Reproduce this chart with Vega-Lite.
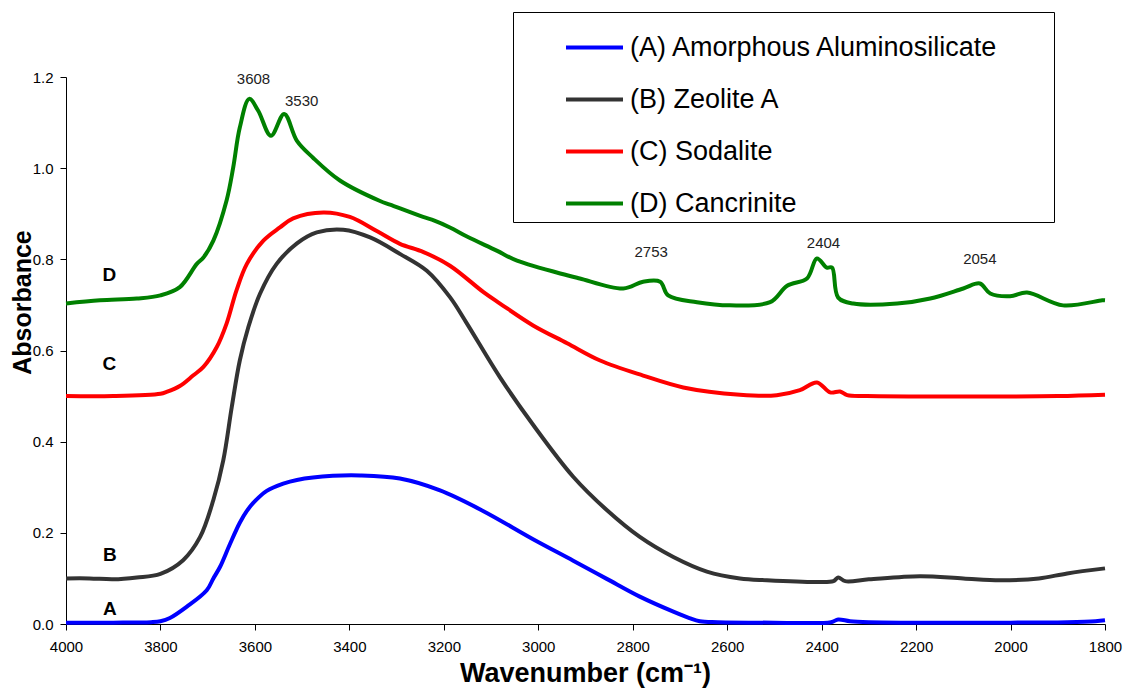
{
  "$schema": "https://vega.github.io/schema/vega-lite/v6.json",
  "width": 1039,
  "height": 547,
  "autosize": {"type": "none"},
  "padding": {"left": 66, "top": 77, "right": 20, "bottom": 66},
  "background": "white",
  "config": {
    "view": {"stroke": null},
    "font": "Liberation Sans"
  },
  "layer": [
    {
      "data": {
        "values": [
          {"s": "(A) Amorphous Aluminosilicate",
           "w": [4000,3900,3820,3800,3780,3744,3702,3688,3674,3653,3632,3617,3604,3575,3540,3511,3435,3377,3293,3208,3117,3011,2926,2855,2785,2714,2680,2658,2620,2500,2380,2365,2340,2300,2000,1880,1820,1800],
           "a": [0.003,0.003,0.004,0.006,0.013,0.038,0.074,0.100,0.125,0.175,0.222,0.248,0.265,0.292,0.308,0.316,0.325,0.326,0.319,0.293,0.248,0.186,0.139,0.099,0.060,0.027,0.013,0.006,0.004,0.003,0.004,0.010,0.006,0.004,0.003,0.004,0.006,0.008]},
          {"s": "(B) Zeolite A",
           "w": [4000,3950,3900,3850,3800,3752,3716,3688,3667,3649,3632,3614,3589,3554,3511,3469,3413,3356,3293,3236,3187,3151,3081,3011,2926,2855,2785,2714,2643,2573,2516,2410,2375,2365,2350,2300,2192,2100,2022,1940,1880,1800],
           "a": [0.100,0.100,0.098,0.102,0.110,0.140,0.191,0.272,0.359,0.476,0.578,0.651,0.725,0.790,0.835,0.859,0.865,0.848,0.812,0.775,0.717,0.659,0.541,0.437,0.323,0.250,0.191,0.147,0.115,0.100,0.096,0.092,0.094,0.102,0.094,0.098,0.105,0.100,0.096,0.100,0.111,0.122]},
          {"s": "(C) Sodalite",
           "w": [4000,3900,3800,3787,3759,3731,3709,3681,3660,3639,3617,3582,3547,3519,3455,3399,3342,3293,3243,3187,3116,3081,3011,2939,2869,2778,2693,2573,2495,2446,2410,2382,2361,2346,2304,2100,1900,1800],
           "a": [0.500,0.500,0.505,0.509,0.522,0.545,0.564,0.607,0.659,0.732,0.790,0.841,0.870,0.890,0.903,0.893,0.862,0.834,0.816,0.786,0.728,0.703,0.655,0.616,0.578,0.545,0.519,0.503,0.502,0.513,0.530,0.508,0.510,0.502,0.500,0.499,0.500,0.503]},
          {"s": "(D) Cancrinite",
           "w": [4000,3928,3850,3800,3759,3723,3709,3688,3660,3646,3632,3612,3593,3566,3538,3511,3477,3420,3335,3314,3244,3220,3187,3151,3088,3045,2939,2912,2820,2778,2742,2725,2664,2594,2509,2473,2431,2410,2389,2378,2365,2333,2240,2170,2100,2065,2043,2001,1965,1889,1806,1800],
           "a": [0.703,0.710,0.714,0.721,0.739,0.790,0.804,0.841,0.929,1.001,1.089,1.152,1.126,1.071,1.119,1.060,1.023,0.973,0.928,0.920,0.893,0.885,0.870,0.850,0.819,0.797,0.765,0.758,0.736,0.751,0.751,0.721,0.706,0.699,0.706,0.742,0.758,0.802,0.782,0.782,0.716,0.703,0.703,0.714,0.736,0.747,0.725,0.719,0.727,0.699,0.710,0.710]}
        ]
      },
      "transform": [{"flatten": ["w", "a"]}],
      "mark": {"type": "line", "strokeWidth": 4, "interpolate": "catmull-rom"},
      "encoding": {
        "x": {
          "field": "w", "type": "quantitative",
          "scale": {"domain": [1800, 4000], "reverse": true, "nice": false, "zero": false},
          "axis": {
            "values": [4000,3800,3600,3400,3200,3000,2800,2600,2400,2200,2000,1800],
            "format": "d", "grid": false, "tickSize": 6, "labelPadding": 9,
            "labelFontSize": 15, "labelFont": "Liberation Sans", "labelColor": "black",
            "labelFlush": false, "labelOverlap": false,
            "domainColor": "black", "tickColor": "black",
            "title": "Wavenumber (cm⁻¹)",
            "titleFont": "Liberation Sans", "titleFontSize": 27, "titleFontWeight": "bold",
            "titleColor": "black", "titleX": 519, "titleY": 57, "titleBaseline": "alphabetic", "titleAlign": "center"
          }
        },
        "y": {
          "field": "a", "type": "quantitative",
          "scale": {"domain": [0, 1.2], "nice": false},
          "axis": {
            "values": [0, 0.2, 0.4, 0.6, 0.8, 1.0, 1.2],
            "format": ".1f", "grid": false, "tickSize": 6, "labelPadding": 7,
            "labelFontSize": 15, "labelFont": "Liberation Sans", "labelColor": "black",
            "labelFlush": false, "labelOverlap": false,
            "domainColor": "black", "tickColor": "black",
            "title": "Absorbance", "titleFont": "Liberation Sans", "titleFontSize": 25, "titleFontWeight": "bold",
            "titleColor": "black", "titleAngle": -90, "titleX": -44, "titleY": 225, "titleBaseline": "middle", "titleAlign": "center"
          }
        },
        "color": {
          "field": "s", "type": "nominal",
          "scale": {
            "domain": ["(A) Amorphous Aluminosilicate", "(B) Zeolite A", "(C) Sodalite", "(D) Cancrinite"],
            "range": ["#0000FF", "#333333", "#FF0000", "#008000"]
          },
          "legend": {
            "orient": "none", "legendX": 447, "legendY": -65,
            "title": " ", "titleOrient": "right", "titlePadding": 50,
            "strokeColor": "black", "fillColor": "white", "padding": 5,
            "symbolType": "stroke", "symbolSize": 3249, "symbolStrokeWidth": 4, "symbolOffset": 46,
            "labelFontSize": 27, "labelFont": "Liberation Sans", "labelColor": "black", "labelOffset": 5,
            "labelLimit": 0, "rowPadding": 8
          }
        }
      }
    },
    {
      "data": {
        "values": [
          {"t": "3608", "w": 3603, "a": 1.195},
          {"t": "3530", "w": 3501, "a": 1.148},
          {"t": "2753", "w": 2761, "a": 0.815},
          {"t": "2404", "w": 2396, "a": 0.835},
          {"t": "2054", "w": 2065, "a": 0.800}
        ]
      },
      "mark": {"type": "text", "fontSize": 15, "font": "Liberation Sans", "color": "#222222", "align": "center", "baseline": "middle"},
      "encoding": {
        "x": {"field": "w", "type": "quantitative"},
        "y": {"field": "a", "type": "quantitative"},
        "text": {"field": "t"}
      }
    },
    {
      "data": {
        "values": [
          {"t": "D", "w": 3908, "a": 0.765},
          {"t": "C", "w": 3908, "a": 0.571},
          {"t": "B", "w": 3907, "a": 0.151},
          {"t": "A", "w": 3907, "a": 0.032}
        ]
      },
      "mark": {"type": "text", "fontSize": 19, "fontWeight": "bold", "font": "Liberation Sans", "color": "black", "align": "center", "baseline": "middle"},
      "encoding": {
        "x": {"field": "w", "type": "quantitative"},
        "y": {"field": "a", "type": "quantitative"},
        "text": {"field": "t"}
      }
    }
  ]
}
